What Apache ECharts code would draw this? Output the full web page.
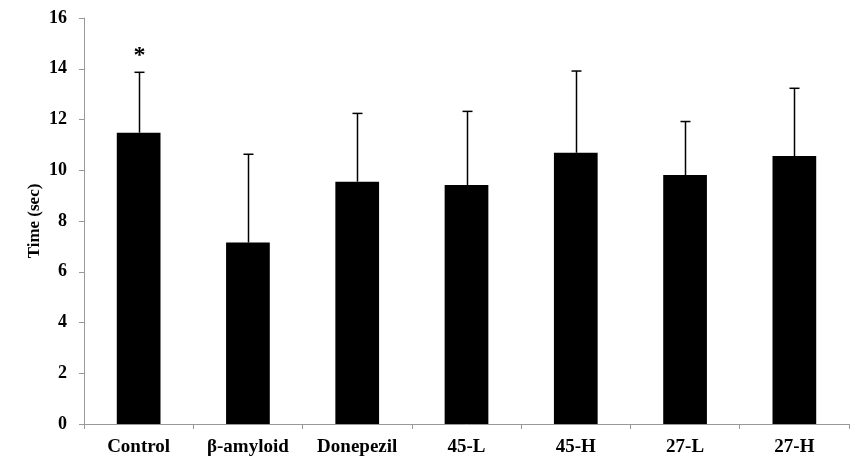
<!DOCTYPE html>
<html>
<head>
<meta charset="utf-8">
<script src="https://cdn.jsdelivr.net/npm/echarts@6/dist/echarts.min.js"></script>
<style>
  html, body { margin: 0; padding: 0; background: #fff; }
  #chart { width: 867px; height: 468px; }
</style>
</head>
<body>
<div id="chart"></div>
<script>
// data
const categories = ['Control', 'β-amyloid', 'Donepezil', '45-L', '45-H', '27-L', '27-H']
const means = [11.48, 7.15, 9.55, 9.42, 10.69, 9.81, 10.56]
const errTops = [13.86, 10.63, 12.24, 12.32, 13.91, 11.92, 13.23]
const marks = ['*', '', '', '', '', '', '']
const yTicks = [0, 2, 4, 6, 8, 10, 12, 14, 16]

const font = '"Liberation Serif", "Times New Roman", serif'
const chart = echarts.init(document.getElementById('chart'))

chart.setOption({
  animation: false,
  grid: { left: 84, right: 18, top: 18, bottom: 44 },
  xAxis: {
    type: 'category',
    data: categories,
    axisLine: { lineStyle: { color: '#999', width: 1 } },
    axisTick: { show: true, interval: 0, length: 5, lineStyle: { color: '#999' } },
    axisLabel: {
      interval: 0,
      color: '#000',
      fontFamily: font,
      fontWeight: 'bold',
      fontSize: 19,
      margin: 14
    }
  },
  yAxis: {
    type: 'value',
    min: yTicks[0],
    max: yTicks[yTicks.length - 1],
    interval: 2,
    name: 'Time (sec)',
    nameLocation: 'middle',
    nameGap: 41,
    nameMoveOverlap: false,
    nameTextStyle: { color: '#000', fontFamily: font, fontWeight: 'bold', fontSize: 17 },
    axisLine: { show: true, lineStyle: { color: '#999', width: 1 } },
    axisTick: { show: true, length: 5, lineStyle: { color: '#999' } },
    splitLine: { show: false },
    axisLabel: {
      color: '#000',
      fontFamily: font,
      fontWeight: 'bold',
      fontSize: 18,
      margin: 17
    }
  },
  series: [
    {
      type: 'bar',
      data: means,
      barWidth: '40%',
      itemStyle: { color: '#000' },
      z: 2
    },
    {
      // upper error bar with cap, plus significance mark
      type: 'custom',
      data: categories.map((c, i) => [i, means[i], errTops[i]]),
      z: 3,
      renderItem (params, api) {
        const base = api.coord([api.value(0), api.value(1)])
        const top = api.coord([api.value(0), api.value(2)])
        const x = Math.round(base[0]) + 0.5
        const children = [
          { type: 'line', shape: { x1: x, y1: base[1], x2: x, y2: top[1] }, style: { stroke: '#000', lineWidth: 1.5 } },
          { type: 'line', shape: { x1: x - 5, y1: top[1], x2: x + 5, y2: top[1] }, style: { stroke: '#000', lineWidth: 1.5 } }
        ]
        const m = marks[params.dataIndex]
        if (m) {
          children.push({
            type: 'text',
            style: {
              text: m,
              x: x,
              y: top[1] - 5,
              align: 'center',
              verticalAlign: 'bottom',
              fontFamily: font,
              fontWeight: 'bold',
              fontSize: 24,
              fill: '#000'
            }
          })
        }
        return { type: 'group', children }
      }
    }
  ]
})
</script>
</body>
</html>
